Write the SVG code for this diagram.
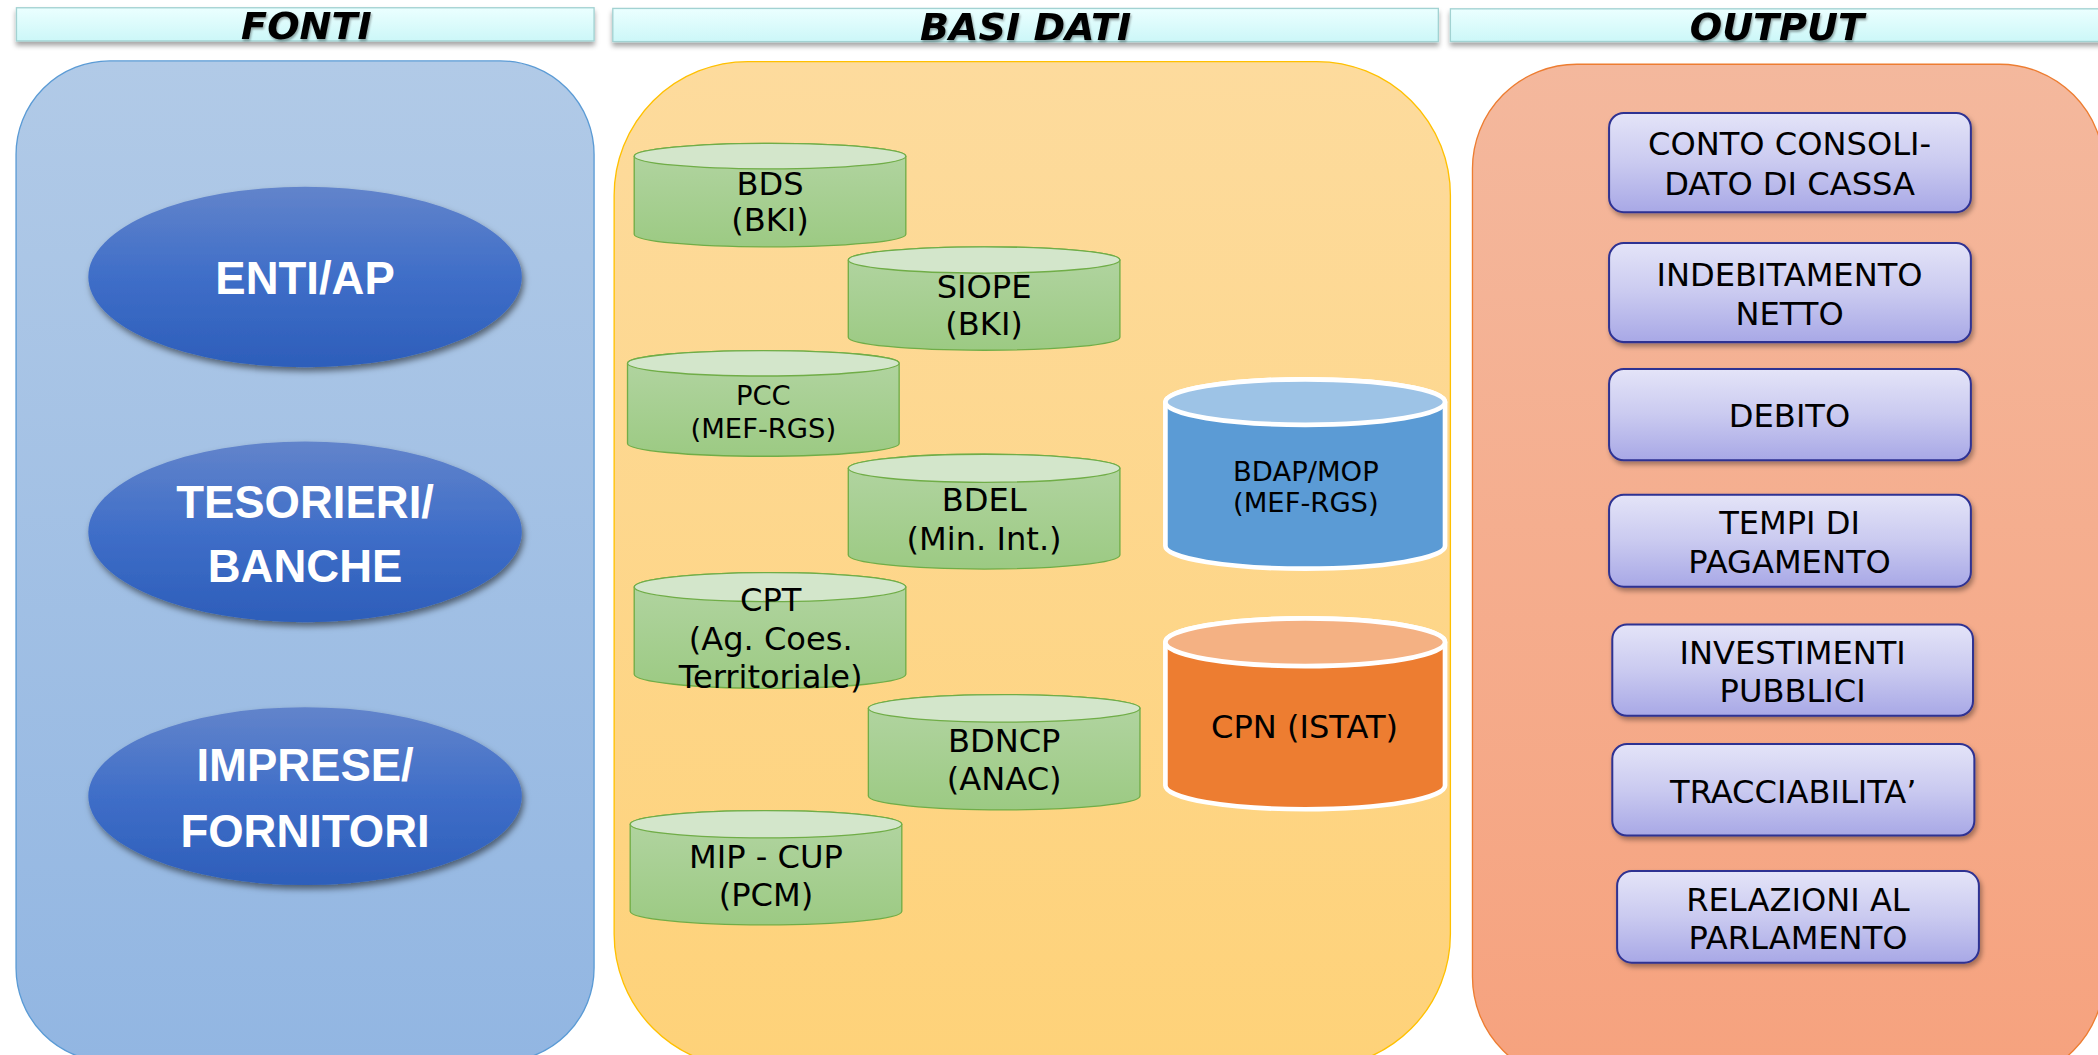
<svg xmlns="http://www.w3.org/2000/svg" width="2098" height="1055" viewBox="0 0 2098 1055">
<defs>
  <linearGradient id="gFonti" x1="0" y1="0" x2="0" y2="1"><stop offset="0" stop-color="#b1cae7"/><stop offset="1" stop-color="#92b6e2"/></linearGradient>
  <linearGradient id="gBasi" x1="0" y1="0" x2="0" y2="1"><stop offset="0" stop-color="#fddb9d"/><stop offset="1" stop-color="#fed279"/></linearGradient>
  <linearGradient id="gOut" x1="0" y1="0" x2="0" y2="1"><stop offset="0" stop-color="#f4b89d"/><stop offset="1" stop-color="#f6a27e"/></linearGradient>
  <linearGradient id="gHead" x1="0" y1="0" x2="0" y2="1"><stop offset="0" stop-color="#ebffff"/><stop offset="1" stop-color="#ccf7f8"/></linearGradient>
  <linearGradient id="gEll" x1="0" y1="0" x2="0" y2="1"><stop offset="0" stop-color="#6284cb"/><stop offset="0.5" stop-color="#3f6ec8"/><stop offset="1" stop-color="#2d5eba"/></linearGradient>
  <linearGradient id="gGreen" x1="0" y1="0" x2="0" y2="1"><stop offset="0" stop-color="#b3d5a3"/><stop offset="1" stop-color="#9cca83"/></linearGradient>
  <linearGradient id="gBox" x1="0" y1="0" x2="0" y2="1"><stop offset="0" stop-color="#e4e4f8"/><stop offset="0.5" stop-color="#cacaf0"/><stop offset="1" stop-color="#a8a8e6"/></linearGradient>
  <filter id="shEll" x="-10%" y="-10%" width="125%" height="130%"><feDropShadow dx="1.5" dy="3" stdDeviation="2.5" flood-color="#000" flood-opacity="0.5"/></filter>
  <filter id="shBox" x="-10%" y="-10%" width="125%" height="140%"><feDropShadow dx="1.5" dy="2.5" stdDeviation="1.8" flood-color="#000" flood-opacity="0.35"/></filter>
  <filter id="shHead" x="-5%" y="-20%" width="110%" height="170%"><feDropShadow dx="0" dy="3" stdDeviation="2" flood-color="#000" flood-opacity="0.35"/></filter>
  <filter id="shText" x="-10%" y="-20%" width="120%" height="160%"><feDropShadow dx="0.8" dy="1.5" stdDeviation="0.8" flood-color="#000" flood-opacity="0.35"/></filter>
</defs>
<style>
  .hdr{fill:url(#gHead);stroke:#a2d2d2;stroke-width:1}
  .htxt{font-family:"DejaVu Sans",Verdana,sans-serif;font-weight:bold;font-style:italic;font-size:28.5px;fill:#000;text-anchor:middle}
  .etxt{font-family:"Liberation Sans",Arial,sans-serif;font-weight:bold;font-size:34px;fill:#fff;text-anchor:middle}
  .ell{fill:url(#gEll)}
  .gbody{fill:url(#gGreen);stroke:#70ad47;stroke-width:1}
  .gtop{fill:#d3e6cb;stroke:#70ad47;stroke-width:1}
  .ctxt{font-family:"DejaVu Sans",Verdana,sans-serif;font-size:24px;fill:#000;text-anchor:middle}
  .small{font-size:20.5px}
  .box{fill:url(#gBox);stroke:#2e3192;stroke-width:1.5}
  .btxt{font-family:"DejaVu Sans",Verdana,sans-serif;font-size:24px;fill:#000;text-anchor:middle}
</style>
<rect x="0" y="0" width="2098" height="1055" fill="#ffffff"/>
<g transform="scale(1.338)">
  <g id="panels">
    <rect id="panel-fonti" x="12" y="45.5" width="432" height="748" rx="70" ry="70" fill="url(#gFonti)" stroke="#5b9bd5" stroke-width="1"/>
    <rect id="panel-basi" x="459" y="46" width="625" height="752" rx="100" ry="100" fill="url(#gBasi)" stroke="#ffc000" stroke-width="1"/>
    <rect id="panel-output" x="1100.5" y="48" width="472" height="760" rx="78" ry="78" fill="url(#gOut)" stroke="#ed7d31" stroke-width="1"/>
  </g>
  <g id="headers">
    <g id="hdr-fonti">
      <rect class="hdr" x="12.3" y="5.8" width="431.7" height="24.8" filter="url(#shHead)"/>
      <text class="htxt" x="229" y="29.5" filter="url(#shText)">FONTI</text>
    </g>
    <g id="hdr-basi">
      <rect class="hdr" x="458" y="6.3" width="617" height="24.8" filter="url(#shHead)"/>
      <text class="htxt" x="766.5" y="29.8" filter="url(#shText)">BASI DATI</text>
    </g>
    <g id="hdr-output">
      <rect class="hdr" x="1084" y="6.6" width="490" height="24.4" filter="url(#shHead)"/>
      <text class="htxt" x="1328" y="29.8" filter="url(#shText)">OUTPUT</text>
    </g>
  </g>
  <g id="fonti-nodes">
    <g id="enti-ap">
      <ellipse class="ell" cx="228" cy="207" rx="162" ry="67.5" filter="url(#shEll)"/>
      <text class="etxt" x="228" y="220">ENTI/AP</text>
    </g>
    <g id="tesorieri">
      <ellipse class="ell" cx="228" cy="397.5" rx="162" ry="67.5" filter="url(#shEll)"/>
      <text class="etxt" x="228" y="387">TESORIERI/</text>
      <text class="etxt" x="228" y="435">BANCHE</text>
    </g>
    <g id="imprese">
      <ellipse class="ell" cx="228" cy="595" rx="162" ry="66.5" filter="url(#shEll)"/>
      <text class="etxt" x="228" y="584">IMPRESE/</text>
      <text class="etxt" x="228" y="633">FORNITORI</text>
    </g>
  </g>
  <g id="basi-nodes">
    <g id="bds">
      <path class="gbody" d="M474,116.7 L474,175 A101.5,9.5 0 0 0 677,175 L677,116.7 A101.5,9.5 0 0 0 474,116.7 Z"/>
      <ellipse class="gtop" cx="575.5" cy="116.7" rx="101.5" ry="9.5"/>
      <text class="ctxt" x="575.5" y="146">BDS</text>
      <text class="ctxt" x="575.5" y="173">(BKI)</text>
    </g>
    <g id="siope">
      <path class="gbody" d="M634,194.3 L634,252 A101.5,9.8 0 0 0 837,252 L837,194.3 A101.5,9.8 0 0 0 634,194.3 Z"/>
      <ellipse class="gtop" cx="735.5" cy="194.3" rx="101.5" ry="9.8"/>
      <text class="ctxt" x="735.5" y="222.8">SIOPE</text>
      <text class="ctxt" x="735.5" y="250.5">(BKI)</text>
    </g>
    <g id="pcc">
      <path class="gbody" d="M469,271.5 L469,331.5 A101.5,9.5 0 0 0 672,331.5 L672,271.5 A101.5,9.5 0 0 0 469,271.5 Z"/>
      <ellipse class="gtop" cx="570.5" cy="271.5" rx="101.5" ry="9.5"/>
      <text class="ctxt small" x="570.5" y="303">PCC</text>
      <text class="ctxt small" x="570.5" y="327">(MEF-RGS)</text>
    </g>
    <g id="bdel">
      <path class="gbody" d="M634,350 L634,414.8 A101.5,10.5 0 0 0 837,414.8 L837,350 A101.5,10.5 0 0 0 634,350 Z"/>
      <ellipse class="gtop" cx="735.5" cy="350" rx="101.5" ry="10.5"/>
      <text class="ctxt" x="735.5" y="382">BDEL</text>
      <text class="ctxt" x="735.5" y="411">(Min. Int.)</text>
    </g>
    <g id="cpt">
      <path class="gbody" d="M474,438.8 L474,504 A101.5,10.5 0 0 0 677,504 L677,438.8 A101.5,10.8 0 0 0 474,438.8 Z"/>
      <ellipse class="gtop" cx="575.5" cy="438.8" rx="101.5" ry="10.8"/>
      <text class="ctxt" x="576" y="457">CPT</text>
      <text class="ctxt" x="576" y="486">(Ag. Coes.</text>
      <text class="ctxt" x="576" y="514">Territoriale)</text>
    </g>
    <g id="bdncp">
      <path class="gbody" d="M649,529.4 L649,595 A101.5,10.3 0 0 0 852,595 L852,529.4 A101.5,10.3 0 0 0 649,529.4 Z"/>
      <ellipse class="gtop" cx="750.5" cy="529.4" rx="101.5" ry="10.3"/>
      <text class="ctxt" x="750.5" y="562">BDNCP</text>
      <text class="ctxt" x="750.5" y="590.5">(ANAC)</text>
    </g>
    <g id="mip-cup">
      <path class="gbody" d="M471,616 L471,681 A101.5,10.2 0 0 0 674,681 L674,616 A101.5,10.2 0 0 0 471,616 Z"/>
      <ellipse class="gtop" cx="572.5" cy="616" rx="101.5" ry="10.2"/>
      <text class="ctxt" x="572.5" y="649">MIP - CUP</text>
      <text class="ctxt" x="572.5" y="677">(PCM)</text>
    </g>
    <g id="bdap-mop">
      <path d="M871,300.5 L871,408 A104.5,17 0 0 0 1080,408 L1080,300.5 A104.5,17 0 0 0 871,300.5 Z" fill="#5b9bd5" stroke="#ffffff" stroke-width="3.5"/>
      <ellipse cx="975.5" cy="300.5" rx="104.5" ry="17" fill="#9dc3e6" stroke="#ffffff" stroke-width="3.5"/>
      <text class="ctxt small" x="976" y="359.4">BDAP/MOP</text>
      <text class="ctxt small" x="976" y="383">(MEF-RGS)</text>
    </g>
    <g id="cpn-istat">
      <path d="M871,480 L871,587 A104.5,17.8 0 0 0 1080,587 L1080,480 A104.5,17.8 0 0 0 871,480 Z" fill="#ed7d31" stroke="#ffffff" stroke-width="3.5"/>
      <ellipse cx="975.5" cy="480" rx="104.5" ry="17.8" fill="#f4b183" stroke="#ffffff" stroke-width="3.5"/>
      <text class="ctxt" x="975" y="551.5">CPN (ISTAT)</text>
    </g>
  </g>
  <g id="output-nodes">
    <g id="conto-consolidato">
      <rect class="box" x="1202.6" y="84.4" width="270.4" height="74.2" rx="11" filter="url(#shBox)"/>
      <text class="btxt" x="1337.5" y="116">CONTO CONSOLI-</text>
      <text class="btxt" x="1337.5" y="145.5">DATO DI CASSA</text>
    </g>
    <g id="indebitamento">
      <rect class="box" x="1202.6" y="181.7" width="270.4" height="74" rx="11" filter="url(#shBox)"/>
      <text class="btxt" x="1337.5" y="213.7">INDEBITAMENTO</text>
      <text class="btxt" x="1337.5" y="242.6">NETTO</text>
    </g>
    <g id="debito">
      <rect class="box" x="1202.6" y="275.8" width="270.4" height="68.2" rx="11" filter="url(#shBox)"/>
      <text class="btxt" x="1337.5" y="319">DEBITO</text>
    </g>
    <g id="tempi">
      <rect class="box" x="1202.6" y="369.7" width="270.4" height="68.8" rx="11" filter="url(#shBox)"/>
      <text class="btxt" x="1337.5" y="399">TEMPI DI</text>
      <text class="btxt" x="1337.5" y="428">PAGAMENTO</text>
    </g>
    <g id="investimenti">
      <rect class="box" x="1205" y="466.8" width="269.6" height="68.2" rx="11" filter="url(#shBox)"/>
      <text class="btxt" x="1339.8" y="496">INVESTIMENTI</text>
      <text class="btxt" x="1339.8" y="525">PUBBLICI</text>
    </g>
    <g id="tracciabilita">
      <rect class="box" x="1205" y="556" width="270.6" height="68.5" rx="11" filter="url(#shBox)"/>
      <text class="btxt" x="1340.3" y="600">TRACCIABILITA’</text>
    </g>
    <g id="relazioni">
      <rect class="box" x="1208.6" y="651" width="270.4" height="68.5" rx="11" filter="url(#shBox)"/>
      <text class="btxt" x="1343.8" y="680.6">RELAZIONI AL</text>
      <text class="btxt" x="1343.8" y="709">PARLAMENTO</text>
    </g>
  </g>
  <g id="connectors"/>
</g>
</svg>
